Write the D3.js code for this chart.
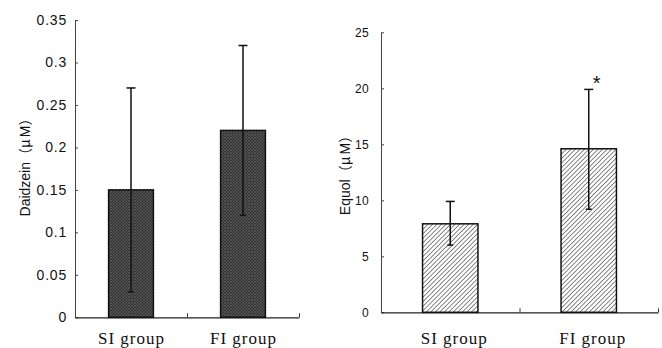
<!DOCTYPE html>
<html>
<head>
<meta charset="utf-8">
<script src="https://cdn.jsdelivr.net/npm/d3@7"></script>
<style>
  body { margin: 0; background: #fff; }
  svg { display: block; }
</style>
</head>
<body>
<div id="plot"></div>
<script>
// data
const groups = ["SI group", "FI group"];

const daidzeinMean = [0.15, 0.22];
const daidzeinLow  = [0.03, 0.12];
const daidzeinHigh = [0.27, 0.32];
const daidzeinTicks = [0, 0.05, 0.1, 0.15, 0.2, 0.25, 0.3, 0.35];

const equolMean = [7.9, 14.6];
const equolLow  = [6.0, 9.2];
const equolHigh = [9.9, 19.9];
const equolTicks = [0, 5, 10, 15, 20, 25];

const svg = d3.select("#plot").append("svg")
    .attr("width", 662)
    .attr("height", 348);

// fill patterns
const defs = svg.append("defs");

const dark = defs.append("pattern")
    .attr("id", "darkHatch")
    .attr("patternUnits", "userSpaceOnUse")
    .attr("width", 3).attr("height", 3);
dark.append("rect").attr("width", 3).attr("height", 3).attr("fill", "#333");
dark.append("path").attr("d", "M0,3 L3,0").attr("stroke", "#6e6e6e").attr("stroke-width", 0.6);
dark.append("path").attr("d", "M0,0 L3,3").attr("stroke", "#5e5e5e").attr("stroke-width", 0.5);

const light = defs.append("pattern")
    .attr("id", "lineHatch")
    .attr("patternUnits", "userSpaceOnUse")
    .attr("width", 3.2).attr("height", 3.2)
    .attr("patternTransform", "rotate(45)");
light.append("rect").attr("width", 3.2).attr("height", 3.2).attr("fill", "#fff");
light.append("line").attr("x1", 0).attr("y1", 0).attr("x2", 0).attr("y2", 3.2)
    .attr("stroke", "#111").attr("stroke-width", 1);

function drawPanel(p) {
  const y = d3.scaleLinear().domain(p.domain).range([p.y0, p.y1]);
  const x = d3.scaleBand().domain(groups).range([p.x0, p.x1]);
  const edges = d3.scaleLinear().domain([0, groups.length]).range([p.x0, p.x1]);
  const bw = x.bandwidth() * 0.4;

  // y axis, ticks pointing inward
  const yAxis = svg.append("g")
      .attr("transform", `translate(${p.x0},0)`)
      .call(d3.axisLeft(y).tickValues(p.ticks).tickFormat(d => String(d))
        .tickSize(-3).tickSizeOuter(0).tickPadding(p.tickPad));
  yAxis.select(".domain").attr("stroke", "#444");
  yAxis.selectAll(".tick line").attr("stroke", "#444");
  yAxis.selectAll(".tick text")
      .attr("font-family", "'Liberation Sans', Arial, sans-serif")
      .attr("font-size", p.tickFont)
      .attr("letter-spacing", p.tickSpacing)
      .attr("fill", "#111");

  // x axis, ticks at band edges pointing up
  const xAxis = svg.append("g")
      .attr("transform", `translate(0,${p.y0})`)
      .call(d3.axisBottom(edges).tickValues(d3.range(1, groups.length + 1))
        .tickFormat("").tickSize(-4).tickSizeOuter(0));
  xAxis.select(".domain").attr("stroke", "#222").attr("stroke-width", 1.2);
  xAxis.selectAll(".tick line").attr("stroke", "#333");

  // bars
  svg.selectAll(null)
    .data(groups)
    .enter().append("rect")
      .attr("x", d => x(d) + (x.bandwidth() - bw) / 2)
      .attr("y", (d, i) => y(p.mean[i]))
      .attr("width", bw)
      .attr("height", (d, i) => y(0) - y(p.mean[i]))
      .attr("fill", p.fill)
      .attr("stroke", "#111")
      .attr("stroke-width", 1.5);

  // error bars
  const err = svg.selectAll(null)
    .data(groups)
    .enter().append("g")
      .attr("transform", d => `translate(${x(d) + x.bandwidth() / 2},0)`)
      .attr("stroke", "#111")
      .attr("stroke-width", 1.5);
  err.append("line")
      .attr("y1", (d, i) => y(p.low[i]))
      .attr("y2", (d, i) => y(p.high[i]));
  err.append("line")
      .attr("x1", -4.5).attr("x2", 4.5)
      .attr("y1", (d, i) => y(p.high[i]))
      .attr("y2", (d, i) => y(p.high[i]));
  err.append("line")
      .attr("x1", -3).attr("x2", 3)
      .attr("y1", (d, i) => y(p.low[i]))
      .attr("y2", (d, i) => y(p.low[i]));

  // group labels
  svg.selectAll(null)
    .data(groups)
    .enter().append("text")
      .attr("x", d => x(d) + x.bandwidth() / 2 + p.labelShift)
      .attr("y", 343.5)
      .attr("text-anchor", "middle")
      .attr("font-family", "'Liberation Serif', 'Times New Roman', serif")
      .attr("font-size", 17)
      .attr("letter-spacing", 1)
      .attr("fill", "#111")
      .text(d => d);

  // y axis title, full-width brackets as in the original
  const title = svg.append("text")
      .attr("transform", `translate(${p.titleX},${p.titleY}) rotate(-90)`)
      .attr("text-anchor", "middle")
      .attr("font-family", "'Liberation Sans', Arial, sans-serif")
      .attr("font-size", p.titleFont)
      .attr("fill", "#111");
  title.append("tspan").text(p.title);
  title.append("tspan").attr("font-family", "'Noto Sans CJK JP', sans-serif").text("\uFF08");
  title.append("tspan").attr("font-family", "'Noto Sans CJK JP', sans-serif").text("\u03BC");
  title.append("tspan").attr("dx", 2).text("M");
  title.append("tspan").attr("font-family", "'Noto Sans CJK JP', sans-serif").text("\uFF09");

  return { x, y };
}

drawPanel({
  domain: [0, 0.35], y0: 317.3, y1: 20, x0: 75, x1: 299,
  ticks: daidzeinTicks, tickPad: 8, tickFont: 14, tickSpacing: 0.8,
  mean: daidzeinMean, low: daidzeinLow, high: daidzeinHigh,
  fill: "url(#darkHatch)", labelShift: 0.5,
  title: "Daidzein", titleX: 30, titleY: 164, titleFont: 14
});

const right = drawPanel({
  domain: [0, 25], y0: 312.3, y1: 32.3, x0: 381, x1: 658,
  ticks: equolTicks, tickPad: 12, tickFont: 12, tickSpacing: 0.3,
  mean: equolMean, low: equolLow, high: equolHigh,
  fill: "url(#lineHatch)", labelShift: 4,
  title: "Equol", titleX: 350, titleY: 172, titleFont: 14
});

// significance mark above the FI error bar
svg.append("text")
    .attr("x", right.x("FI group") + right.x.bandwidth() / 2 + 8)
    .attr("y", right.y(equolHigh[1]) + 1)
    .attr("text-anchor", "middle")
    .attr("font-family", "'Liberation Sans', Arial, sans-serif")
    .attr("font-size", 20)
    .attr("fill", "#111")
    .text("*");
</script>
</body>
</html>
